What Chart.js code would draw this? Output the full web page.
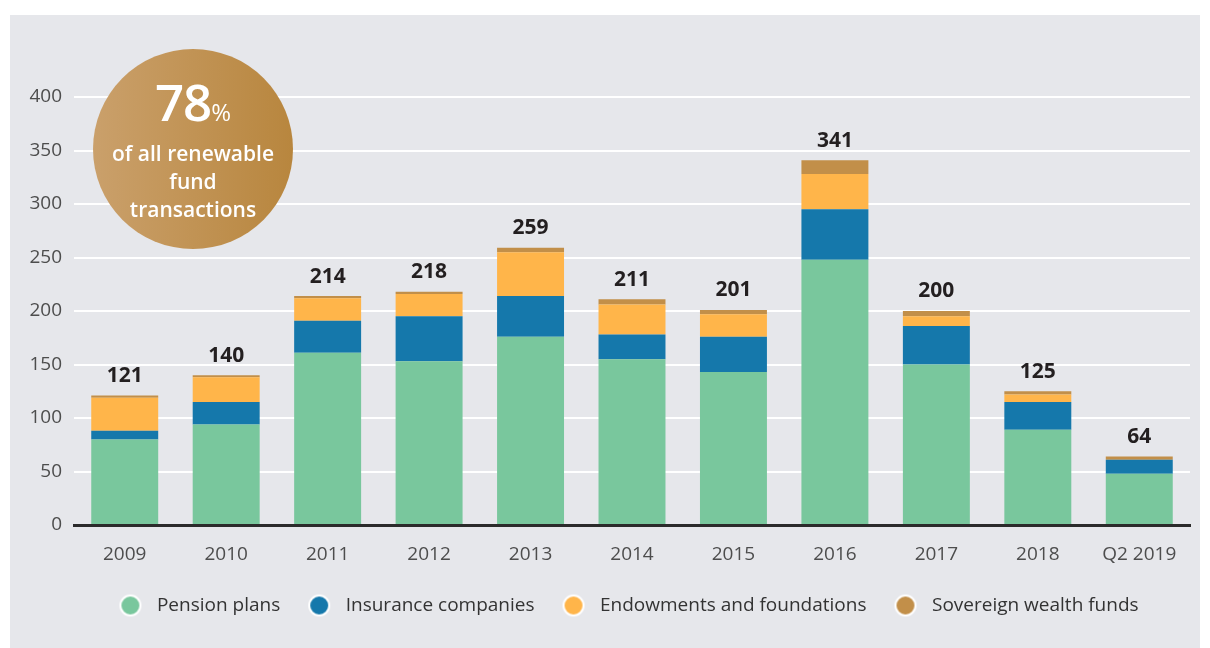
<!DOCTYPE html>
<html>
<head>
<meta charset="utf-8">
<script src="https://cdn.jsdelivr.net/npm/chart.js@4.4.1/dist/chart.umd.min.js"></script>
<style>
  body { margin: 0; background: #ffffff; width: 1210px; height: 648px; overflow: hidden; }
  #panel { position: absolute; left: 10px; top: 15px; width: 1190px; height: 633px; background: #e6e7eb; }
  #chart { position: absolute; left: 0; top: 0; }
  #badge {
    position: absolute; left: 83px; top: 34px; width: 200px; height: 200px; border-radius: 50%;
    background: linear-gradient(to right, #caa06b, #b8863e);
    color: #fff; font-family: "Open Sans", sans-serif; text-align: center;
  }
  #badge .big { font-size: 51px; font-weight: 600; line-height: 50px; margin-top: 27px; letter-spacing: -1px; }
  #badge .big span { font-size: 24px; font-weight: 400; letter-spacing: 0; }
  #badge .txt { font-size: 21px; font-weight: 600; line-height: 28px; margin-top: 2px; }
</style>
</head>
<body>
<div id="panel">
  <canvas id="chart" width="1190" height="633"></canvas>
  <div id="badge">
    <div class="big">78<span>%</span></div>
    <div class="txt">of all renewable<br>fund<br>transactions</div>
  </div>
</div>
<script>
const years = ['2009', '2010', '2011', '2012', '2013', '2014', '2015', '2016', '2017', '2018', 'Q2 2019'];
const pension = [80, 94, 161, 153, 176, 155, 143, 248, 150, 89, 48];
const insurance = [8, 21, 30, 42, 38, 23, 33, 47, 36, 26, 13];
const endowments = [31, 23, 21, 21, 41, 28, 21, 33, 9, 7, 0];
const sovereign = [2, 2, 2, 2, 4, 5, 4, 13, 5, 3, 3];
const totals = [121, 140, 214, 218, 259, 211, 201, 341, 200, 125, 64];
const yTicks = [0, 50, 100, 150, 200, 250, 300, 350, 400];

const font = 'Open Sans';

// round legend marker with a white rim
function dot(color) {
  const c = document.createElement('canvas');
  c.width = 24; c.height = 24;
  const g = c.getContext('2d');
  g.beginPath();
  g.arc(12, 12, 10, 0, Math.PI * 2);
  g.fillStyle = color;
  g.fill();
  g.lineWidth = 2;
  g.strokeStyle = '#ffffff';
  g.stroke();
  return c;
}

// totals above each stack
const totalLabels = {
  id: 'totalLabels',
  afterDatasetsDraw(chart) {
    const ctx = chart.ctx;
    const meta = chart.getDatasetMeta(3);
    ctx.save();
    ctx.font = 'bold 21px "' + font + '"';
    ctx.fillStyle = '#231f20';
    ctx.textAlign = 'center';
    ctx.textBaseline = 'bottom';
    meta.data.forEach((bar, i) => {
      ctx.fillText(totals[i], bar.x, bar.y - 9);
    });
    ctx.restore();
  }
};

// centre the legend under the plot area rather than the whole canvas
const legendShift = {
  id: 'legendShift',
  afterLayout(chart) {
    const lg = chart.legend;
    if (lg) { lg.left += 26; lg.right += 26; }
  }
};

new Chart(document.getElementById('chart'), {
  type: 'bar',
  data: {
    labels: years,
    datasets: [
      { label: 'Pension plans', data: pension, backgroundColor: '#79c79d' },
      { label: 'Insurance companies', data: insurance, backgroundColor: '#1578ab' },
      { label: 'Endowments and foundations', data: endowments, backgroundColor: '#ffb54a' },
      { label: 'Sovereign wealth funds', data: sovereign, backgroundColor: '#c28f49' }
    ]
  },
  options: {
    responsive: false,
    animation: false,
    layout: { padding: { top: 82, right: 10, left: 0, bottom: 23 } },
    datasets: { bar: { barPercentage: 0.66, categoryPercentage: 1, borderWidth: 0 } },
    scales: {
      x: {
        stacked: true,
        grid: { display: false },
        border: { color: '#2b2b2b', width: 3 },
        ticks: { color: '#4d4d4d', font: { family: font, size: 19 }, padding: 10 },
        afterFit: s => { s.height = 49; }
      },
      y: {
        stacked: true,
        min: 0, max: 400,
        afterBuildTicks: s => { s.ticks = yTicks.map(v => ({ value: v })); },
        grid: { color: '#ffffff', lineWidth: 2, drawTicks: false },
        border: { display: false },
        ticks: { color: '#4d4d4d', font: { family: font, size: 19 }, padding: 12 },
        afterFit: s => { s.width = 64; }
      }
    },
    plugins: {
      tooltip: { enabled: false },
      legend: {
        position: 'bottom',
        labels: {
          usePointStyle: true,
          pointStyleWidth: 34,
          boxHeight: 19,
          padding: 22,
          color: '#333333',
          font: { family: font, size: 19 },
          generateLabels: chart => chart.data.datasets.map((d, i) => ({
            text: d.label, fillStyle: d.backgroundColor, strokeStyle: '#ffffff',
            lineWidth: 0, pointStyle: dot(d.backgroundColor), datasetIndex: i,
            hidden: false, fontColor: '#333333'
          }))
        }
      }
    }
  },
  plugins: [totalLabels, legendShift]
});
</script>
</body>
</html>
